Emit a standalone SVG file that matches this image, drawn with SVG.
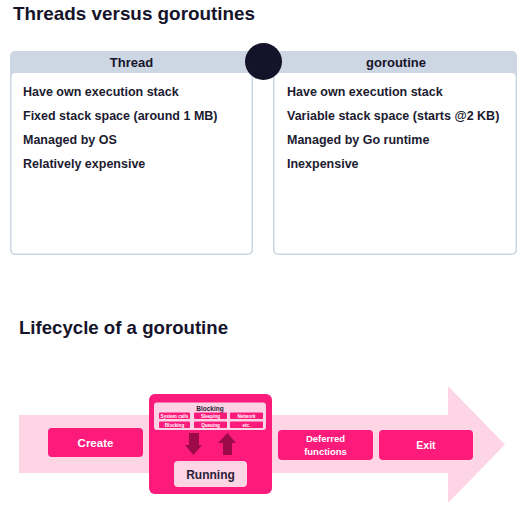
<svg xmlns="http://www.w3.org/2000/svg" width="521" height="519" viewBox="0 0 521 519">
<style>
.title{font-family:"Liberation Sans",Arial,sans-serif;font-weight:bold;font-size:18.5px;fill:#16142b}
.hdr{font-family:"Liberation Sans",Arial,sans-serif;font-weight:bold;font-size:13px;fill:#16142b;text-anchor:middle}
.item{font-family:"Liberation Sans",Arial,sans-serif;font-weight:bold;font-size:12.5px;fill:#1c1b30}
.box{fill:#cdd6e3}
.inner{fill:#ffffff}
.pk{fill:#fc1a7b}
.lt{fill:#fdd5e5}
.wt{font-family:"Liberation Sans",Arial,sans-serif;font-weight:bold;fill:#ffffff;text-anchor:middle}
.chip{font-family:"Liberation Sans",Arial,sans-serif;font-weight:bold;font-size:4.6px;fill:#ffffff;text-anchor:middle}
.dk{fill:#9c0b47}
</style>
<rect width="521" height="519" fill="#ffffff"/>
<text class="title" x="13" y="20" textLength="242" lengthAdjust="spacingAndGlyphs">Threads versus goroutines</text>
<g id="thread">
<rect class="box" x="10" y="51" width="243" height="204" rx="5"/>
<rect class="inner" x="11.5" y="73" width="240" height="180.5" rx="4"/>
<text class="hdr" x="131.5" y="67">Thread</text>
<text class="item" x="23" y="96">Have own execution stack</text>
<text class="item" x="23" y="120">Fixed stack space (around 1 MB)</text>
<text class="item" x="23" y="144">Managed by OS</text>
<text class="item" x="23" y="168">Relatively expensive</text>
</g>
<g id="goroutine">
<rect class="box" x="273" y="51" width="244" height="204" rx="5"/>
<rect class="inner" x="274.5" y="73" width="241" height="180.5" rx="4"/>
<text class="hdr" x="396" y="67">goroutine</text>
<text class="item" x="287" y="96">Have own execution stack</text>
<text class="item" x="287" y="120">Variable stack space (starts @2 KB)</text>
<text class="item" x="287" y="144">Managed by Go runtime</text>
<text class="item" x="287" y="168">Inexpensive</text>
</g>
<g id="dot"><circle cx="263.5" cy="61.5" r="18.5" fill="#15132a"/></g>
<text class="title" x="19" y="334" textLength="209" lengthAdjust="spacingAndGlyphs">Lifecycle of a goroutine</text>
<g id="lifecycle-arrow">
<polygon class="lt" points="19,415 448,415 448,386 505,444.5 448,503 448,473 19,473"/>
</g>
<g id="create">
<rect class="pk" x="48" y="428" width="95" height="29" rx="4"/>
<text class="wt" x="95.5" y="447" font-size="11.5">Create</text>
</g>
<g id="running-group">
<rect class="pk" x="149" y="394" width="123" height="100" rx="6"/>
<g id="blocking">
<rect x="154" y="402.5" width="112" height="27.5" rx="3" fill="#fcd3e4"/>
<text x="210" y="411" font-family="Liberation Sans,Arial,sans-serif" font-weight="bold" font-size="6.5" fill="#2a1a35" text-anchor="middle">Blocking</text>
<rect class="pk" x="159" y="412.5" width="31" height="6.5" rx="1"/>
<rect class="pk" x="194" y="412.5" width="33" height="6.5" rx="1"/>
<rect class="pk" x="230" y="412.5" width="33" height="6.5" rx="1"/>
<rect class="pk" x="159" y="421.5" width="31" height="6.5" rx="1"/>
<rect class="pk" x="194" y="421.5" width="33" height="6.5" rx="1"/>
<rect class="pk" x="230" y="421.5" width="33" height="6.5" rx="1"/>
<text class="chip" x="174.5" y="417.5">System calls</text>
<text class="chip" x="210.5" y="417.5">Sleeping</text>
<text class="chip" x="246.5" y="417.5">Network</text>
<text class="chip" x="174.5" y="426.5">Blocking</text>
<text class="chip" x="210.5" y="426.5">Queuing</text>
<text class="chip" x="246.5" y="426.5">etc.</text>
</g>
<g id="state-arrows">
<polygon class="dk" points="189,433 199,433 199,445 202,445 193.5,455 185,445 189,445"/>
<polygon class="dk" points="223,455 232,455 232,443 236,443 227.5,433 218,443 223,443"/>
</g>
<g id="running">
<rect class="lt" x="174" y="461" width="73" height="26" rx="4"/>
<text x="210.5" y="479" font-family="Liberation Sans,Arial,sans-serif" font-weight="bold" font-size="12" fill="#2a1f3a" text-anchor="middle">Running</text>
</g>
</g>
<g id="deferred">
<rect class="pk" x="278" y="430" width="95" height="30" rx="4"/>
<text class="wt" x="325.5" y="442" font-size="9.5">Deferred</text>
<text class="wt" x="325.5" y="455" font-size="9.5">functions</text>
</g>
<g id="exit">
<rect class="pk" x="379" y="430" width="94" height="30" rx="4"/>
<text class="wt" x="426" y="449" font-size="10.5">Exit</text>
</g>
</svg>
